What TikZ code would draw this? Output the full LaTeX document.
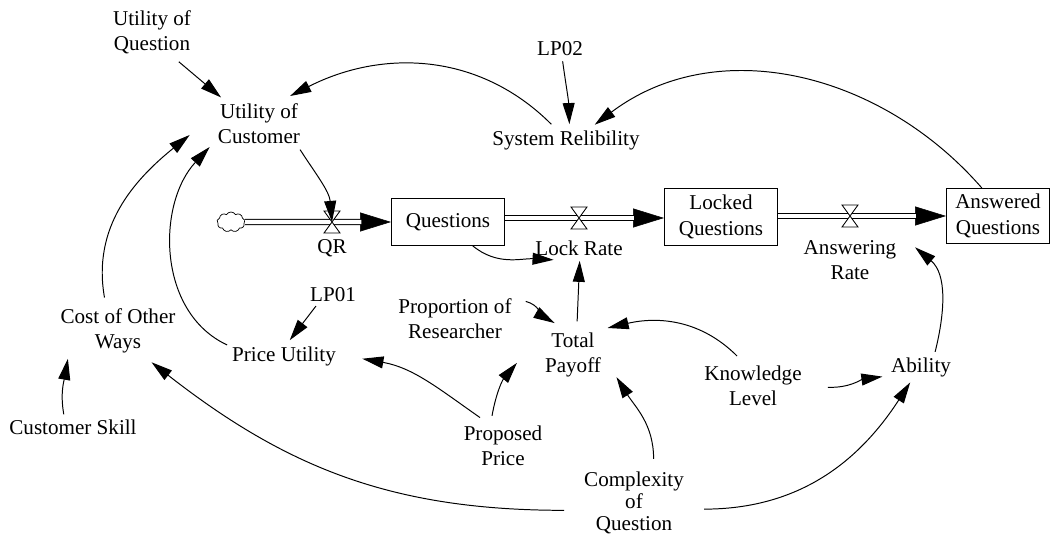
\documentclass[tikz,border=0pt]{standalone}
\usepackage{fontspec}
\setmainfont{Liberation Serif}
\usetikzlibrary{shapes.geometric, shapes.symbols, arrows.meta}

\begin{document}
\begin{tikzpicture}[
    x=0.025cm, y=0.025cm,
    font=\fontsize{15}{18}\selectfont,
    aux/.style={ellipse, align=center, inner xsep=3pt, inner ysep=1pt},
    stock/.style={draw, line width=0.7pt, align=center,
                  minimum width=2.825cm, minimum height=#1},
    link/.style={-{Triangle[length=15pt, width=8.5pt]}, line width=0.7pt},
    pipe/.style={line width=0.7pt, double, double distance=3pt, shorten >=21pt},
    pipetip/.style={-{Triangle[length=22pt, width=13.5pt]}, line width=0.4pt},
    valve/.pic={\draw[fill=white, line width=0.6pt]
                (-8,11) -- (8,11) -- (-8,-11) -- (8,-11) -- cycle;},
]
    \useasboundingbox (0,0) rectangle (1056,538);

    % Top: customer side
    \node[aux] (uq) at (152,506) {Utility of\\Question};
    \node[aux, inner xsep=8pt] (uc) at (259,414) {Utility of\\Customer};
    \node[aux] (lp02) at (560,489) {LP02};
    \node[aux] (sr) at (566,398) {System Relibility};

    % Stocks and flows
    \node[cloud, cloud puffs=9, cloud puff arc=120, aspect=1.3, draw,
          line width=0.5pt, minimum width=0.7cm, minimum height=0.5cm,
          inner sep=0pt] (src) at (231,316) {};
    \node[stock=1.15cm] (qs) at (448,316) {Questions};
    \node[stock=1.4cm] (lq) at (721,321) {Locked\\Questions};
    \node[stock=1.375cm, minimum width=2.575cm] (aq) at (998,322) {Answered\\Questions};
    \coordinate (vqr) at (332,316);
    \coordinate (vlr) at (579,320);
    \coordinate (var) at (850,322);
    \node[aux] (lqr) at (332,290) {QR};
    \node[aux] (llr) at (579,290) {Lock Rate};
    \node[aux] (lar) at (850,278) {Answering\\Rate};

    % Lower variables
    \node[aux] (lp01) at (333,243) {LP01};
    \node[aux] (pu) at (284,182) {Price Utility};
    \node[aux] (cow) at (118,207) {Cost of Other\\Ways};
    \node[aux] (cs) at (73,111) {Customer Skill};
    \node[aux] (pr) at (455,219) {Proportion of\\Researcher};
    \node[aux, inner xsep=9pt] (tp) at (573,183) {Total\\Payoff};
    \node[aux] (pp) at (503,92) {Proposed\\Price};
    \node[aux, inner xsep=0pt, font=\fontsize{15}{15.5}\selectfont] (cq) at (634,35) {Complexity\\of\\Question};
    \node[aux] (kl) at (753,152) {Knowledge\\Level};
    \node[aux] (ab) at (921,171) {Ability};

    % Pipes
    \draw[pipetip] (vqr) -- (qs);
    \draw[pipe] (src) -- (qs);
    \draw[pipetip] (vlr) -- (lq.west |- vlr);
    \draw[pipe] (qs.east |- vlr) -- (lq.west |- vlr);
    \draw[pipetip] (var) -- (aq.west |- var);
    \draw[pipe] (lq.east |- var) -- (aq.west |- var);
    \pic at (vqr) {valve};
    \pic at (vlr) {valve};
    \pic at (var) {valve};

    % Links
    \draw[link] (uq.-48) -- (uc.145);
    \draw[link] (sr.133) to[out=135, in=27] (uc.42);
    \draw[link] (lp02.-78) to[out=-82, in=92] (sr.78);
    \draw[link] (aq.120) to[out=131, in=37] (sr.28);
    \draw[link] (uc.-32) to[out=-57, in=95] (vqr);
    \draw[link] (cow.112) to[out=100, in=-141] (uc.189);
    \draw[link] (pu.169) to[out=155, in=-133] (uc.205);
    \draw[link] (lp01.213) -- (pu.70);
    \draw[link] (pp.129) to[out=145, in=-10] (pu.-2);
    \draw[link] (pp.110) to[out=80, in=-130] (tp.188);
    \draw[link] (cq.66) to[out=90, in=-58] (tp.-27);
    \draw[link] (cq.186) to[out=180, in=-38] (cow.-43);
    \draw[link] (cq.-5) to[out=0, in=-123] (ab.235);
    \draw[link] (kl.118) to[out=135, in=13] (tp.38);
    \draw[link] (kl.-1) to[out=-2, in=188] (ab.194);
    \draw[link] (ab.47) to[out=76, in=-40] (lar.11);
    \draw[link] (tp.83) -- (llr.-87);
    \draw[link] (qs.-44) to[out=-40, in=177] (llr.205);
    \draw[link] (cs.126) to[out=100, in=-100] (cow.209);
    \draw[link] (pr.14) to[out=-15, in=150] (tp.120);
\end{tikzpicture}
\end{document}
